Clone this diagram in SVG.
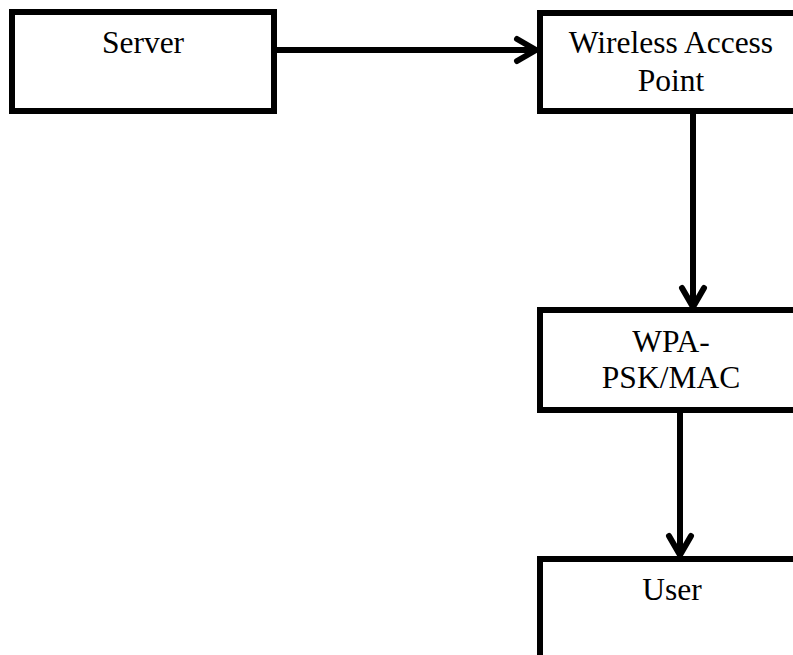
<svg xmlns="http://www.w3.org/2000/svg" width="793" height="655" viewBox="0 0 793 655">
  <style>
    .box { fill: #ffffff; stroke: #000000; stroke-width: 6; }
    .lbl { font-family: "Liberation Serif", "Times New Roman", serif; font-size: 31.5px; fill: #000000; text-anchor: middle; }
    .conn { stroke: #000000; stroke-width: 6; fill: none; }
  </style>
  <defs>
    <marker id="chev" markerUnits="userSpaceOnUse" markerWidth="40" markerHeight="40" refX="0" refY="0" viewBox="-30 -20 40 40" orient="auto" overflow="visible">
      <path d="M -19 -11 L 0 0 L -19 11" fill="none" stroke="#000000" stroke-width="6" stroke-linecap="round" stroke-linejoin="round"/>
    </marker>
  </defs>
  <rect width="793" height="655" fill="#ffffff"/>
  <g id="connectors">
    <line class="conn" x1="277" y1="50" x2="536" y2="50" marker-end="url(#chev)"/>
    <line class="conn" x1="693" y1="114" x2="693" y2="307" marker-end="url(#chev)"/>
    <line class="conn" x1="680" y1="413" x2="680" y2="555" marker-end="url(#chev)"/>
  </g>
  <g id="server">
    <rect class="box" x="12" y="12" width="262" height="99"/>
    <text class="lbl" x="143" y="53">Server</text>
  </g>
  <g id="wap">
    <rect class="box" x="540" y="13" width="262" height="98"/>
    <text class="lbl" x="671" y="53">Wireless Access</text>
    <text class="lbl" x="671" y="91">Point</text>
  </g>
  <g id="wpa">
    <rect class="box" x="540" y="310" width="262" height="100"/>
    <text class="lbl" x="671" y="352">WPA-</text>
    <text class="lbl" x="671" y="388">PSK/MAC</text>
  </g>
  <g id="user">
    <rect class="box" x="540" y="559" width="262" height="110"/>
    <text class="lbl" x="672" y="600">User</text>
  </g>
</svg>
